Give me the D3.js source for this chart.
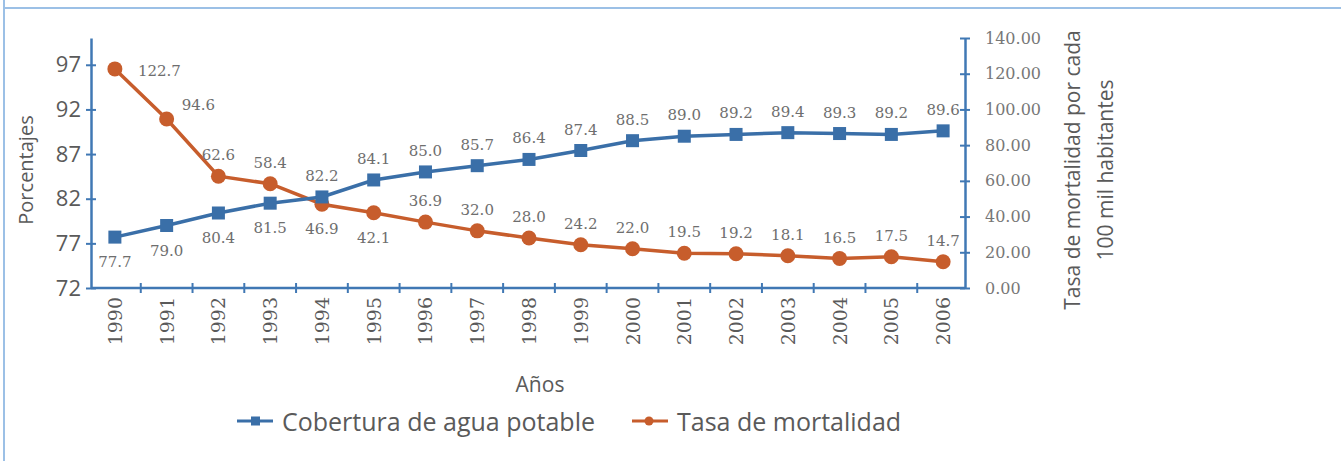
<!DOCTYPE html>
<html>
<head>
<meta charset="utf-8">
<script src="https://cdn.jsdelivr.net/npm/d3@7"></script>
<style>
  html, body { margin: 0; padding: 0; background: #ffffff; }
  svg { display: block; }
</style>
</head>
<body>
<svg id="chart" width="1341" height="461"></svg>
<script>
// Years on the category axis
const years = ["1990","1991","1992","1993","1994","1995","1996","1997","1998",
               "1999","2000","2001","2002","2003","2004","2005","2006"];

// Drinking-water coverage (%) — left axis
const coverage = [77.7, 79.0, 80.4, 81.5, 82.2, 84.1, 85.0, 85.7, 86.4,
                  87.4, 88.5, 89.0, 89.2, 89.4, 89.3, 89.2, 89.6];

// Mortality rate per 100 000 inhabitants — right axis
const mortality = [122.7, 94.6, 62.6, 58.4, 46.9, 42.1, 36.9, 32.0, 28.0,
                   24.2, 22.0, 19.5, 19.2, 18.1, 16.5, 17.5, 14.7];

// Tick values for both value axes
const leftTicks = [72, 77, 82, 87, 92, 97];
const rightTicks = [0, 20, 40, 60, 80, 100, 120, 140];

// Where each data label sits relative to its point
const coverageLabelPos = ["below","below","below","below","above","above","above","above","above",
                          "above","above","above","above","above","above","above","above"];
const mortalityLabelPos = ["right","upperRight","above","above","below","below","above","above","above",
                           "above","above","above","above","above","above","above","above"];

const seriesNames = ["Cobertura de agua potable", "Tasa de mortalidad"];

const BLUE = "#3a6fa8";
const ORANGE = "#c75d2c";
const AXIS = "#4078b4";
const TEXT = "#5a5a5a";
const LABEL = "#6e6e6e";
const SANS = "'Open Sans', 'Noto Sans', sans-serif";
const SERIF = "'DejaVu Serif', 'Liberation Serif', serif";

const svg = d3.select("#chart");

// Frame lines
svg.append("line").attr("x1", 4).attr("x2", 1341).attr("y1", 8).attr("y2", 8)
  .attr("stroke", "#9cc0e6").attr("stroke-width", 2);
svg.append("line").attr("x1", 4).attr("x2", 4).attr("y1", 0).attr("y2", 461)
  .attr("stroke", "#9cc0e6").attr("stroke-width", 2);

const plot = { left: 91, right: 965, top: 38, bottom: 288 };

const x = d3.scaleBand().domain(years).range([89, 969]).padding(0);
const cx = d => x(d) + x.bandwidth() / 2;
const yL = d3.scaleLinear().domain([72, 100]).range([plot.bottom, plot.top]);
const yR = d3.scaleLinear().domain([0, 140]).range([plot.bottom, plot.top]);

// Left axis
const gL = svg.append("g").attr("transform", `translate(${plot.left},0)`)
  .call(d3.axisLeft(yL).tickValues(leftTicks).tickSize(0).tickPadding(10).tickFormat(d3.format("d")));
gL.select(".domain").attr("stroke", AXIS).attr("stroke-width", 2.5);
gL.selectAll(".tick text").attr("font-family", SANS).attr("font-size", 22).attr("fill", TEXT);
gL.selectAll(".tick").append("line").attr("x1", -5).attr("x2", 5)
  .attr("stroke", AXIS).attr("stroke-width", 2);

// Right axis
const gR = svg.append("g").attr("transform", `translate(${plot.right},0)`)
  .call(d3.axisRight(yR).tickValues(rightTicks).tickSize(0).tickPadding(20).tickFormat(d3.format(".2f")));
gR.select(".domain").attr("stroke", AXIS).attr("stroke-width", 2.5);
gR.selectAll(".tick text").attr("font-family", SERIF).attr("font-size", 16).attr("fill", "#777");
gR.selectAll(".tick").append("line").attr("x1", -5).attr("x2", 5)
  .attr("stroke", AXIS).attr("stroke-width", 2);

// Category axis
const gX = svg.append("g").attr("transform", `translate(0,${plot.bottom})`)
  .call(d3.axisBottom(x).tickSize(0).tickPadding(0));
gX.select(".domain").attr("d", `M${plot.left},0H${plot.right}`)
  .attr("stroke", AXIS).attr("stroke-width", 2.5);
gX.selectAll(".tick text")
  .attr("font-family", SERIF).attr("font-size", 19).attr("fill", TEXT)
  .attr("text-anchor", "end").attr("dy", null).attr("y", 0)
  .attr("dominant-baseline", "central")
  .attr("transform", "translate(0,9) rotate(-90)");
// tick marks at the boundaries between years
gX.selectAll(".boundary").data(years.slice(1)).join("line")
  .attr("class", "boundary")
  .attr("x1", d => x(d)).attr("x2", d => x(d))
  .attr("y1", -5).attr("y2", 5)
  .attr("stroke", AXIS).attr("stroke-width", 2);

// Series lines
const lineL = d3.line().x((d, i) => cx(years[i])).y(d => yL(d));
const lineR = d3.line().x((d, i) => cx(years[i])).y(d => yR(d));

svg.append("path").datum(mortality).attr("d", lineR)
  .attr("fill", "none").attr("stroke", ORANGE).attr("stroke-width", 3.5);
svg.append("path").datum(coverage).attr("d", lineL)
  .attr("fill", "none").attr("stroke", BLUE).attr("stroke-width", 3.5);

// Markers
svg.selectAll(".mort").data(mortality).join("circle").attr("class", "mort")
  .attr("cx", (d, i) => cx(years[i])).attr("cy", d => yR(d)).attr("r", 7.5)
  .attr("fill", ORANGE);
svg.selectAll(".cov").data(coverage).join("rect").attr("class", "cov")
  .attr("x", (d, i) => cx(years[i]) - 6.5).attr("y", d => yL(d) - 6.5)
  .attr("width", 13).attr("height", 13).attr("fill", BLUE);

// Data labels
const offsets = {
  above: { dx: 0, dy: -21, anchor: "middle" },
  below: { dx: 0, dy: 25, anchor: "middle" },
  right: { dx: 23, dy: 2, anchor: "start" },
  upperRight: { dx: 15, dy: -14, anchor: "start" }
};
function labels(values, pos, scale, cls) {
  svg.selectAll("." + cls).data(values).join("text").attr("class", cls)
    .attr("x", (d, i) => cx(years[i]) + offsets[pos[i]].dx)
    .attr("y", (d, i) => scale(d) + offsets[pos[i]].dy)
    .attr("text-anchor", (d, i) => offsets[pos[i]].anchor)
    .attr("dominant-baseline", "central")
    .attr("font-family", SERIF).attr("font-size", 15).attr("fill", LABEL)
    .text(d => d.toFixed(1));
}
labels(coverage, coverageLabelPos, yL, "covLabel");
labels(mortality, mortalityLabelPos, yR, "mortLabel");

// Axis titles
svg.append("text").attr("transform", "translate(25,170) rotate(-90)")
  .attr("text-anchor", "middle").attr("dominant-baseline", "central")
  .attr("font-family", SANS).attr("font-size", 20).attr("fill", TEXT).text("Porcentajes");
svg.append("text").attr("transform", "translate(1072,170) rotate(-90)")
  .attr("text-anchor", "middle").attr("dominant-baseline", "central")
  .attr("font-family", SANS).attr("font-size", 21).attr("fill", TEXT).text("Tasa de mortalidad por cada");
svg.append("text").attr("transform", "translate(1105,170) rotate(-90)")
  .attr("text-anchor", "middle").attr("dominant-baseline", "central")
  .attr("font-family", SANS).attr("font-size", 21).attr("fill", TEXT).text("100 mil habitantes");
svg.append("text").attr("x", 540).attr("y", 384)
  .attr("text-anchor", "middle").attr("dominant-baseline", "central")
  .attr("font-family", SANS).attr("font-size", 21).attr("fill", TEXT).text("Años");

// Legend
const legend = svg.append("g").attr("transform", "translate(0,421)");
const items = [
  { name: seriesNames[0], color: BLUE, x0: 237, shape: "square" },
  { name: seriesNames[1], color: ORANGE, x0: 632, shape: "circle" }
];
items.forEach(it => {
  legend.append("line").attr("x1", it.x0).attr("x2", it.x0 + 36).attr("y1", 0).attr("y2", 0)
    .attr("stroke", it.color).attr("stroke-width", 3);
  if (it.shape === "square") {
    legend.append("rect").attr("x", it.x0 + 14).attr("y", -4.5).attr("width", 9).attr("height", 9)
      .attr("fill", it.color);
  } else {
    legend.append("circle").attr("cx", it.x0 + 17).attr("cy", 0).attr("r", 4.5).attr("fill", it.color);
  }
  legend.append("text").attr("x", it.x0 + 45).attr("y", 0)
    .attr("dominant-baseline", "central")
    .attr("font-family", SANS).attr("font-size", 25).attr("fill", TEXT).text(it.name);
});
</script>
</body>
</html>
